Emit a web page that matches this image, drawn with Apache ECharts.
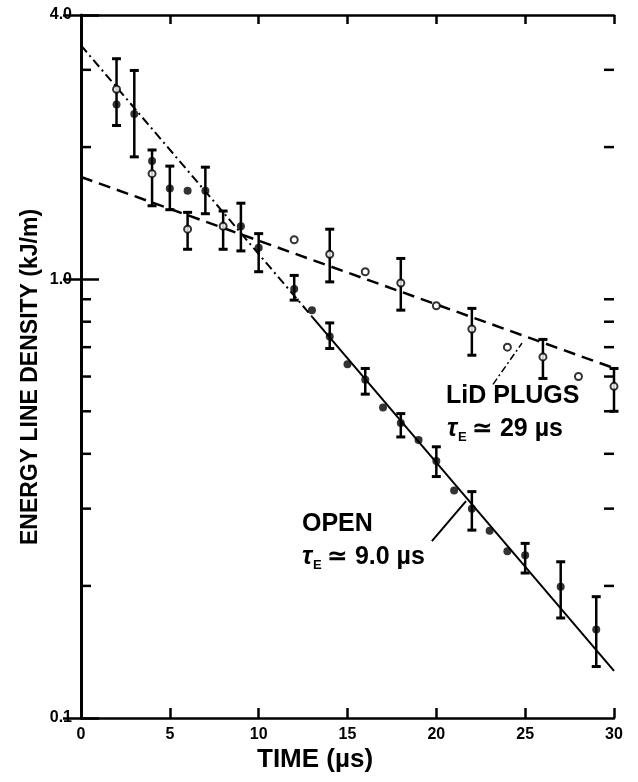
<!DOCTYPE html>
<html>
<head>
<meta charset="utf-8">
<script src="https://cdn.jsdelivr.net/npm/echarts@6/dist/echarts.min.js"></script>
<style>
  html, body { margin: 0; padding: 0; background: #fff; }
  #chart { width: 638px; height: 782px; }
</style>
</head>
<body>
<div id="chart"></div>
<script>
// OPEN (filled circles)
const openTime = [2, 3, 4, 5, 6, 7, 9, 10, 12, 13, 14, 15, 16, 17, 18, 19, 20, 21, 22, 23, 24, 25, 27, 29]
const openEnergy = [2.50, 2.38, 1.86, 1.61, 1.59, 1.59, 1.32, 1.18, 0.95, 0.85, 0.74, 0.64, 0.59, 0.51, 0.47, 0.43, 0.385, 0.33, 0.30, 0.267, 0.24, 0.235, 0.199, 0.159]
const openErrTime = [3, 4, 5, 7, 9, 10, 12, 14, 16, 18, 20, 22, 25, 27, 29]
const openErrLow = [1.90, 1.47, 1.44, 1.41, 1.16, 1.04, 0.896, 0.695, 0.547, 0.437, 0.355, 0.268, 0.214, 0.169, 0.131]
const openErrHigh = [2.99, 1.97, 1.81, 1.80, 1.49, 1.27, 1.02, 0.795, 0.626, 0.494, 0.415, 0.328, 0.25, 0.227, 0.189]

// LiD PLUGS (open circles)
const lidTime = [2, 4, 6, 8, 12, 14, 16, 18, 20, 22, 24, 26, 28, 30]
const lidEnergy = [2.71, 1.74, 1.30, 1.32, 1.23, 1.14, 1.04, 0.98, 0.87, 0.77, 0.70, 0.665, 0.60, 0.57]
const lidErrTime = [2, 6, 8, 14, 18, 22, 26, 30]
const lidErrLow = [2.24, 1.17, 1.17, 0.986, 0.85, 0.671, 0.594, 0.50]
const lidErrHigh = [3.18, 1.42, 1.43, 1.30, 1.115, 0.858, 0.729, 0.626]

// fitted decay lines
const openFitEarlyTime = [0, 13]
const openFitEarly = [3.41, 0.822]
const openFitTime = [13, 30]
const openFit = [0.822, 0.128]
const lidFitTime = [0, 30]
const lidFit = [1.71, 0.627]

// leader lines from the labels
const openLeaderTime = [19.75, 21.67]
const openLeaderVal = [0.253, 0.312]
const lidLeaderTime = [23.19, 24.82]
const lidLeaderVal = [0.576, 0.715]

const xTicks = [0, 5, 10, 15, 20, 25, 30]
const minorTicks = [0.2, 0.3, 0.4, 0.5, 0.6, 0.7, 0.8, 0.9, 2, 3]

const FONT = 'Liberation Sans, DejaVu Sans, sans-serif'

function pairs (xs, ys) {
  return xs.map(function (x, i) { return [x, ys[i]] })
}

function errRows (ts, lo, hi) {
  return ts.map(function (t, i) { return [t, lo[i], hi[i]] })
}

function renderErr (params, api) {
  let t = api.value(0)
  let lo = api.coord([t, api.value(1)])
  let hi = api.coord([t, api.value(2)])
  let w = 4.5
  let s = { stroke: '#000', lineWidth: 2.5 }
  let c = { stroke: '#000', lineWidth: 3 }
  return {
    type: 'group',
    children: [
      { type: 'line', shape: { x1: lo[0], y1: lo[1], x2: hi[0], y2: hi[1] }, style: s },
      { type: 'line', shape: { x1: lo[0] - w, y1: lo[1], x2: lo[0] + w, y2: lo[1] }, style: c },
      { type: 'line', shape: { x1: hi[0] - w, y1: hi[1], x2: hi[0] + w, y2: hi[1] }, style: c }
    ]
  }
}

// short inward ticks for 2..9 within each decade, on one edge of the plot
function minorRenderer (side) {
  return function (params, api) {
    let p = api.coord([api.value(0), api.value(1)])
    return {
      type: 'line',
      shape: { x1: p[0], y1: p[1], x2: p[0] + side * 10, y2: p[1] },
      style: { stroke: '#000', lineWidth: 2.5 }
    }
  }
}

function tauLabel (x, top, rest) {
  return [
    { type: 'text', left: x, top: top, style: { text: 'τ', font: 'italic bold 25px ' + FONT, fill: '#000' } },
    { type: 'text', left: x + 11, top: top + 14, style: { text: 'E', font: 'bold 13px ' + FONT, fill: '#000' } },
    { type: 'text', left: x + 25, top: top, style: { text: rest, font: 'bold 25px ' + FONT, fill: '#000' } }
  ]
}

const axisLine = { lineStyle: { color: '#000', width: 2.5 } }

let myChart = echarts.init(document.getElementById('chart'))
myChart.setOption({
  animation: false,
  backgroundColor: '#fff',
  grid: { left: 81, right: 24, top: 15, bottom: 64 },
  xAxis: [
    {
      type: 'value',
      min: 0,
      max: 30,
      interval: 5,
      position: 'bottom',
      axisLine: axisLine,
      axisTick: { inside: true, length: 10, lineStyle: { width: 2.5, color: '#000' } },
      axisLabel: { color: '#000', fontFamily: FONT, fontWeight: 'bold', fontSize: 16, margin: 9 },
      splitLine: { show: false }
    },
    {
      type: 'value',
      min: 0,
      max: 30,
      interval: 5,
      position: 'top',
      axisLine: axisLine,
      axisTick: { inside: true, length: 9, lineStyle: { width: 2.5, color: '#000' } },
      axisLabel: { show: false },
      splitLine: { show: false }
    }
  ],
  yAxis: [
    {
      type: 'log',
      logBase: 10,
      min: 0.1,
      max: 4,
      position: 'left',
      axisLine: { lineStyle: { color: '#000', width: 2 } },
      axisTick: { inside: true, length: 18, lineStyle: { width: 2.5, color: '#000' } },
      axisLabel: {
        color: '#000',
        fontFamily: FONT,
        fontWeight: 'bold',
        fontSize: 16,
        margin: 9,
        formatter: function (v) { return Number(v).toFixed(1) }
      },
      splitLine: { show: false }
    },
    {
      type: 'log',
      logBase: 10,
      min: 0.1,
      max: 4,
      position: 'right',
      axisLine: { lineStyle: { color: '#000', width: 3 } },
      axisTick: { inside: true, length: 18, lineStyle: { width: 2.5, color: '#000' } },
      axisLabel: { show: false },
      splitLine: { show: false }
    }
  ],
  series: [
    {
      name: 'minor ticks left',
      type: 'custom',
      renderItem: minorRenderer(1),
      data: minorTicks.map(function (v) { return [xTicks[0], v] }),
      clip: false,
      silent: true,
      z: 6
    },
    {
      name: 'minor ticks right',
      type: 'custom',
      renderItem: minorRenderer(-1),
      data: minorTicks.map(function (v) { return [xTicks[xTicks.length - 1], v] }),
      clip: false,
      silent: true,
      z: 6
    },
    {
      name: 'OPEN fit early',
      type: 'line',
      data: pairs(openFitEarlyTime, openFitEarly),
      symbol: 'none',
      lineStyle: { color: '#000', width: 2, type: [9, 4, 2, 4] },
      z: 2
    },
    {
      name: 'OPEN fit',
      type: 'line',
      data: pairs(openFitTime, openFit),
      symbol: 'none',
      lineStyle: { color: '#000', width: 2 },
      z: 2
    },
    {
      name: 'LiD fit',
      type: 'line',
      data: pairs(lidFitTime, lidFit),
      symbol: 'none',
      lineStyle: { color: '#000', width: 2.5, type: [12, 7] },
      z: 2
    },
    {
      name: 'OPEN leader',
      type: 'line',
      data: pairs(openLeaderTime, openLeaderVal),
      symbol: 'none',
      lineStyle: { color: '#000', width: 2 },
      z: 2
    },
    {
      name: 'LiD leader',
      type: 'line',
      data: pairs(lidLeaderTime, lidLeaderVal),
      symbol: 'none',
      lineStyle: { color: '#000', width: 1.5, type: [7, 3, 2, 3] },
      z: 2
    },
    {
      name: 'OPEN err',
      type: 'custom',
      renderItem: renderErr,
      encode: { x: 0, y: [1, 2] },
      data: errRows(openErrTime, openErrLow, openErrHigh),
      z: 3
    },
    {
      name: 'LiD err',
      type: 'custom',
      renderItem: renderErr,
      encode: { x: 0, y: [1, 2] },
      data: errRows(lidErrTime, lidErrLow, lidErrHigh),
      z: 3
    },
    {
      name: 'OPEN',
      type: 'scatter',
      data: pairs(openTime, openEnergy),
      symbol: 'circle',
      symbolSize: 8,
      itemStyle: { color: '#000' },
      z: 4
    },
    {
      name: 'LiD PLUGS',
      type: 'scatter',
      data: pairs(lidTime, lidEnergy),
      symbol: 'circle',
      symbolSize: 7,
      itemStyle: { color: '#fff', borderColor: '#000', borderWidth: 2 },
      z: 5
    }
  ],
  graphic: [
    { type: 'text', left: 302, top: 512, style: { text: 'OPEN', font: 'bold 25px ' + FONT, fill: '#000' } },
    { type: 'text', left: 446, top: 384, style: { text: 'LiD PLUGS', font: 'bold 25px ' + FONT, fill: '#000' } },
    { type: 'text', left: 257, top: 747, style: { text: 'TIME (µs)', font: 'bold 26px ' + FONT, fill: '#000' } },
    {
      type: 'text',
      x: 31,
      y: 377,
      rotation: Math.PI / 2,
      style: {
        text: 'ENERGY LINE DENSITY (kJ/m)',
        font: 'bold 23px ' + FONT,
        fill: '#000',
        align: 'center',
        verticalAlign: 'middle'
      }
    }
  ].concat(tauLabel(302, 545, '≃ 9.0 µs'), tauLabel(447, 417, '≃ 29 µs'))
})
window.onresize = myChart.resize
</script>
</body>
</html>
